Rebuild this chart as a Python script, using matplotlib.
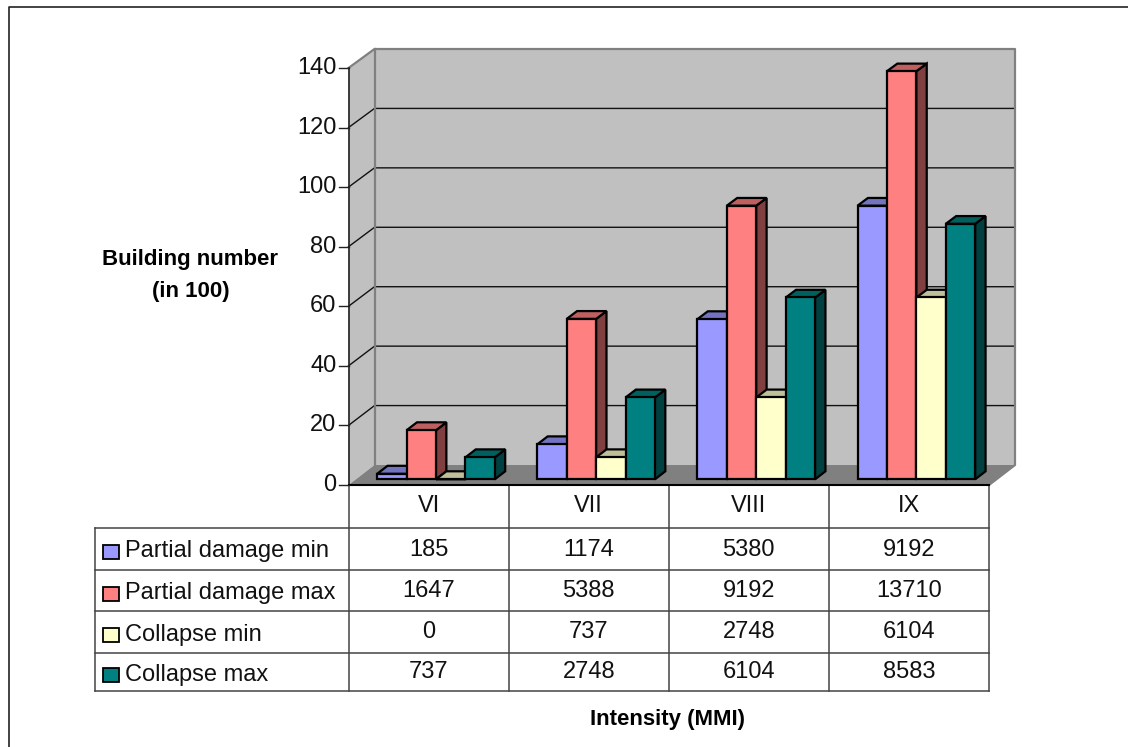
import numpy as np
import matplotlib
matplotlib.use('Agg')
import matplotlib.pyplot as plt
from matplotlib.patches import Polygon, Rectangle

plt.rcParams['font.family'] = ['Liberation Sans', 'DejaVu Sans']

# values as printed in the table
categories = ['VI', 'VII', 'VIII', 'IX']
partial_min = [185, 1174, 5380, 9192]
partial_max = [1647, 5388, 9192, 13710]
collapse_min = [0, 737, 2748, 6104]
collapse_max = [737, 2748, 6104, 8583]
series_names = ['Partial damage min', 'Partial damage max', 'Collapse min', 'Collapse max']
y_ticks = [0, 20, 40, 60, 80, 100, 120, 140]

series = [partial_min, partial_max, collapse_min, collapse_max]
front = ['#9999ff', '#ff8080', '#ffffcc', '#008080']
top = ['#7373bf', '#bf6060', '#bfbf99', '#006060']
side = ['#4d4d80', '#804040', '#808066', '#004040']

W, H = 1128, 747
fig = plt.figure(figsize=(W / 100, H / 100), dpi=100, facecolor='white')

# overlay in pixels for the frame, table and labels
page = fig.add_axes([0, 0, 1, 1])
page.set_xlim(0, W)
page.set_ylim(H, 0)
page.axis('off')

# chart axes = front plane of the 3d box
x0, x1, y0, y1 = 348.5, 989, 485, 68
ax = fig.add_axes([x0 / W, 1 - y0 / H, (x1 - x0) / W, (y0 - y1) / H])
ax.set_xlim(0, 4)
ax.set_ylim(0, 140)
ax.axis('off')
ax.patch.set_visible(False)

# full depth of the box, in data units (back wall is very slightly shorter)
DX = 26 * 4 / (x1 - x0)
y_unit = 140 / (y0 - y1)


def proj(x, v, d):
    return (x + d * DX, v + d * (20 - v / 140) * y_unit)


def face(pts, color, ec, lw, z):
    ax.add_patch(Polygon(pts, closed=True, facecolor=color, edgecolor=ec, linewidth=lw,
                         joinstyle='miter', clip_on=False, zorder=z))


# walls and floor
face([proj(0, 0, 0), proj(0, 0, 1), proj(0, 140, 1), proj(0, 140, 0)], '#c0c0c0', 'none', 0, 1)
face([proj(0, 0, 1), proj(4, 0, 1), proj(4, 140, 1), proj(0, 140, 1)], '#c0c0c0', 'none', 0, 1)
face([proj(0, 0, 0), proj(4, 0, 0), proj(4, 0, 1), proj(0, 0, 1)], '#808080', 'none', 0, 1)

for t in y_ticks[1:-1]:
    ax.plot(*zip(proj(0, t, 0), proj(0, t, 1), proj(4, t, 1)), color='#111111', lw=1.0,
            clip_on=False, zorder=2)
wall_edge = [proj(4, 0, 0), proj(4, 0, 1), proj(4, 140, 1), proj(0, 140, 1), proj(0, 140, 0)]
ax.plot(*zip(*wall_edge), color='#808080', lw=1.6, clip_on=False, zorder=2)
ax.plot(*zip(proj(0, 0, 1), proj(0, 140, 1)), color='#808080', lw=1.6, clip_on=False, zorder=2)

# y axis and ticks
ax.plot([0, 0], [0, 140], color='#222222', lw=1.2, clip_on=False, zorder=3)
ax.plot([0, 4], [0, 0], color='black', lw=1.5, clip_on=False, zorder=3)
tick_len = 10 * 4 / (x1 - x0)
for t in y_ticks:
    ax.plot([-tick_len, 0], [t, t], color='#222222', lw=1.0, clip_on=False, zorder=3)
    ax.text(-tick_len - 0.012, t, str(t), ha='right', va='center', fontsize=17, color='#111111')

# bars, group by group, left to right
bar_w = 0.1837
d_front, d_back = 0.285, 0.685
for i in range(len(categories)):
    x_start = i + 0.5 - 2 * bar_w
    for s, vals in enumerate(series):
        v = vals[i] / 100
        xa = x_start + s * bar_w
        xb = xa + bar_w
        z = 5 + i * 10 + s
        face([proj(xb, 0, d_front), proj(xb, 0, d_back), proj(xb, v, d_back), proj(xb, v, d_front)],
             side[s], 'black', 1.6, z)
        face([proj(xa, v, d_front), proj(xb, v, d_front), proj(xb, v, d_back), proj(xa, v, d_back)],
             top[s], 'black', 1.6, z)
        fx, fy = proj(xa, 0, d_front)
        ax.bar(fx, v, width=bar_w, bottom=fy, align='edge', color=front[s], edgecolor='black',
               linewidth=1.6, clip_on=False, zorder=z)

# data table
row_y = [485, 528, 570, 611, 653, 691]
col_x = [x0 + (x1 - x0) * k / 4 for k in range(5)]
left = 95
for k, cx in enumerate(col_x):
    page.plot([cx, cx], [row_y[0], row_y[-1]], color='#444444', lw=1.1, zorder=1)
page.plot([left, left], [row_y[1], row_y[-1]], color='#444444', lw=1.1)
for k, ry in enumerate(row_y[1:]):
    page.plot([left, x1], [ry, ry], color='#444444', lw=1.1)

for k, c in enumerate(categories):
    page.text((col_x[k] + col_x[k + 1]) / 2, (row_y[0] + row_y[1]) / 2 - 1, c, ha='center', va='center',
              fontsize=17, color='#111111')
for r, vals in enumerate(series):
    yc = (row_y[r + 1] + row_y[r + 2]) / 2
    page.add_patch(Rectangle((102.5, yc - 4), 16, 14, facecolor=front[r], edgecolor='black', linewidth=1.3))
    page.text(125, yc + 2.5, series_names[r], ha='left', va='center', fontsize=17, color='#111111')
    for k, val in enumerate(vals):
        page.text((col_x[k] + col_x[k + 1]) / 2, yc + 0.5, str(val), ha='center', va='center',
                  fontsize=17, color='#111111')

# axis titles
page.text(190.5, 260, 'Building number', ha='center', va='center', fontsize=16, fontweight='bold')
page.text(190.5, 291, '(in 100)', ha='center', va='center', fontsize=16, fontweight='bold')
page.text(668, 719, 'Intensity (MMI)', ha='center', va='center', fontsize=16, fontweight='bold')

# outer frame
page.plot([9, 9, W], [H, 7, 7], color='#222222', lw=1.2)

fig.savefig('out.png', dpi=100)
